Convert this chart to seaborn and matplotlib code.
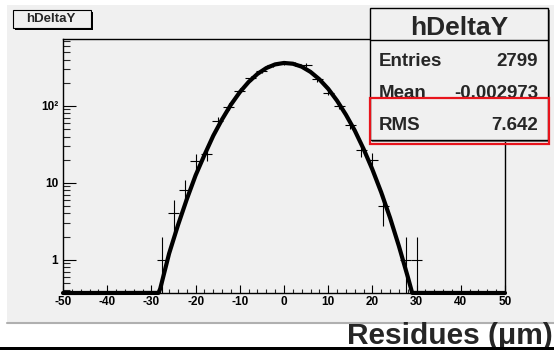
import numpy as np
import pandas as pd
import matplotlib
matplotlib.use("Agg")
import matplotlib.pyplot as plt
from matplotlib.patches import Rectangle
from matplotlib.lines import Line2D
from matplotlib.ticker import MultipleLocator, LogLocator, NullFormatter
import seaborn as sns

# ---------------- data ----------------
bin_width = 2.5
bin_x = [-27.5, -25, -22.5, -20, -17.5, -15, -12.5, -10, -7.5, -5, -2.5, 0,
         2.5, 5, 7.5, 10, 12.5, 15, 17.5, 20, 22.5, 25, 27.5, 30]
counts = [1, 4, 8, 19, 24, 63, 98, 158, 229, 287, 341, 364,
          352, 341, 222, 149, 101, 57, 27, 20, 5, 0, 1, 1]

curve_x = [-50, -28.4, -28, -26, -24, -22, -20, -18, -16, -14, -12, -10, -8, -6,
           -4, -2, 0, 2, 4, 6, 8, 10, 12, 14, 16, 18, 20, 22, 24, 26, 28, 29.0, 50]
curve_y = [0, 0.37, 0.42, 1.2, 2.8, 6.1, 12.5, 23, 41, 67, 104, 151, 205, 261,
           311, 347, 362, 354, 324, 277, 222, 167, 117, 77, 48, 27.6, 14.9, 7.5,
           3.5, 1.5, 0.6, 0.37, 0]

x_ticks = [-50, -40, -30, -20, -10, 0, 10, 20, 30, 40, 50]
y_ticks = [1, 10, 100]
y_ticklabels = ["1", "10", "10²"]
hist_name = "hDeltaY"
stat_names = ["Entries", "Mean", "RMS"]
stat_values = ["2799", "-0.002973", "7.642"]
x_label = "Residues (μm)"

# ---------------- style ----------------
sns.set_style("ticks")
plt.rcParams['font.family'] = ['Liberation Sans', 'DejaVu Sans']
plt.rcParams['font.weight'] = 'bold'

W, H = 554, 350
fig = plt.figure(figsize=(W / 100, H / 100), dpi=100, facecolor='white')


def fx(px):
    return px / W


def fy(py):
    return 1 - py / H


def frect(x0, y0, x1, y1, **kw):
    r = Rectangle((fx(x0), fy(y1)), fx(x1) - fx(x0), fy(y0) - fy(y1),
                  transform=fig.transFigure, **kw)
    fig.patches.append(r)
    return r


PAD = '#f0f0f0'
# pad background
frect(7, 5, 554, 322, fc=PAD, ec='none', zorder=-5)
fig.lines.append(Line2D([fx(7), fx(554)], [fy(322.5), fy(322.5)], transform=fig.transFigure,
                        color='#b0b0b0', lw=1.5, zorder=-4))

# axes
ax = fig.add_axes([fx(63), fy(293), fx(505) - fx(63), fy(39) - fy(293)])
ax.set_facecolor('none')
ymin, ymax = 0.369, 742
ax.set_yscale('log')

df_curve = pd.DataFrame({'x': curve_x, 'y': np.clip(curve_y, ymin, None)})
sns.lineplot(data=df_curve, x='x', y='y', ax=ax, color='black', lw=3.0,
             sort=False, estimator=None, clip_on=False, zorder=3)

bx = np.array(bin_x, dtype=float)
c = np.array(counts, dtype=float)
m = c > 0
err_hi = np.sqrt(c[m])
err_lo = np.minimum(np.sqrt(c[m]), c[m] * 0.999)
ax.errorbar(bx[m], c[m], xerr=bin_width / 2, yerr=[err_lo, err_hi], fmt='none',
            ecolor='black', elinewidth=0.8, capsize=0, zorder=4)

ax.set_xlim(-50, 50)
ax.set_ylim(ymin, ymax)
ax.set_xlabel("")
ax.set_ylabel("")
ax.set_xticks(x_ticks)
ax.set_xticklabels([str(t) for t in x_ticks])
ax.xaxis.set_minor_locator(MultipleLocator(2))
ax.set_yticks(y_ticks)
ax.set_yticklabels(y_ticklabels)
ax.yaxis.set_minor_locator(LogLocator(base=10, subs=np.arange(2, 10)))
ax.yaxis.set_minor_formatter(NullFormatter())

ax.tick_params(axis='x', which='major', direction='in', length=5.8, width=0.8,
               labelsize=8.5, pad=2.0, top=False, colors='black')
ax.tick_params(axis='x', which='minor', direction='in', length=2.9, width=0.8, top=False)
ax.tick_params(axis='y', which='major', direction='in', length=9.4, width=0.8,
               labelsize=8.5, pad=3.5, right=False, colors='black')
ax.tick_params(axis='y', which='minor', direction='in', length=5, width=0.8, right=False)
for lbl in ax.get_xticklabels() + ax.get_yticklabels():
    lbl.set_fontweight('bold')
for s in ax.spines.values():
    s.set_visible(True)
    s.set_color('black')
    s.set_linewidth(1.0)

# title box
frect(15, 12, 93, 30, fc='black', ec='none', zorder=5)
frect(13, 10, 91, 28, fc=PAD, ec='black', lw=0.8, zorder=6)
fig.text(fx(51), fy(19.5), hist_name, ha='center', va='center', fontsize=9.5,
         fontweight='bold', zorder=7)

# stats box
frect(372, 10, 550, 142, fc='#707070', ec='none', zorder=5)
frect(370, 8, 548, 140, fc=PAD, ec='black', lw=1.0, zorder=6)
fig.lines.append(Line2D([fx(370), fx(548)], [fy(40), fy(40)], transform=fig.transFigure,
                        color='black', lw=1.0, zorder=7))
fig.text(fx(459), fy(35), hist_name, ha='center', va='baseline', fontsize=19,
         fontweight='bold', zorder=8)
baselines = [66, 98, 130]
for name, val, yb in zip(stat_names, stat_values, baselines):
    fig.text(fx(379), fy(yb), name, ha='left', va='baseline', fontsize=13.5,
             fontweight='bold', zorder=8)
    fig.text(fx(538), fy(yb), val, ha='right', va='baseline', fontsize=13.5,
             fontweight='bold', zorder=8)

# red highlight
frect(370, 98, 549, 144, fc='none', ec='#e8141c', lw=1.6, zorder=9)

# x label
fig.text(fx(553), fy(344), x_label, ha='right', va='baseline', fontsize=21.5,
         fontweight='bold', zorder=8)
# bottom black bar
frect(0, 347, 554, 351, fc='black', ec='none', zorder=10)

fig.savefig("out.png", dpi=100, facecolor='white')
